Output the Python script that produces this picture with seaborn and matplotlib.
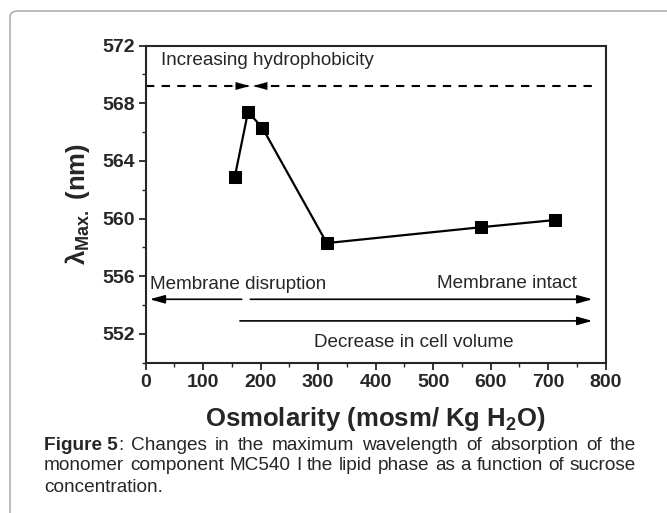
import matplotlib
matplotlib.use("Agg")
import matplotlib.pyplot as plt
import matplotlib.font_manager as fm
import seaborn as sns
import pandas as pd
from matplotlib.patches import FancyBboxPatch

# data
osmolarity = [155, 178, 203, 315, 583, 712]
lambda_max = [562.9, 567.4, 566.3, 558.3, 559.4, 559.9]

x_ticks = [0, 100, 200, 300, 400, 500, 600, 700, 800]
y_ticks = [552, 556, 560, 564, 568, 572]

caption_lines = [
    "Changes in the maximum wavelength of absorption of the",
    "monomer component MC540 I the lipid phase as a function of sucrose",
    "concentration.",
]

sns.set_style("ticks")
plt.rcParams['font.family'] = ['Liberation Sans', 'DejaVu Sans']
plt.rcParams['mathtext.fontset'] = 'custom'
plt.rcParams['mathtext.rm'] = 'Liberation Sans:bold'
plt.rcParams['mathtext.bf'] = 'Liberation Sans:bold'
plt.rcParams['mathtext.it'] = 'Liberation Sans:bold'

# caption font: narrow if available
try:
    fm.findfont("Liberation Sans Narrow", fallback_to_default=False)
    cap_family = "Liberation Sans Narrow"
except Exception:
    cap_family = "Liberation Sans"

df = pd.DataFrame({"x": osmolarity, "y": lambda_max})

fig = plt.figure(figsize=(6.67, 5.13), dpi=100)
ax = fig.add_axes([0.2184, 0.293, 0.6896, 0.618])

sns.lineplot(data=df, x="x", y="y", sort=False, ax=ax, color="black",
             linewidth=1.6, marker="s", markersize=8, markeredgecolor="black")

ax.set_xlim(0, 800)
ax.set_ylim(550, 572)
ax.set_xticks(x_ticks)
ax.set_yticks(y_ticks)
ax.set_xticks(range(50, 800, 100), minor=True)
ax.set_yticks([550, 554, 558, 562, 566, 570], minor=True)
ax.tick_params(which="major", length=5, width=1.3, labelsize=14, pad=3)
ax.tick_params(which="minor", length=3, width=1.0)
for lab in ax.get_xticklabels() + ax.get_yticklabels():
    lab.set_fontweight("bold")
for sp in ax.spines.values():
    sp.set_linewidth(1.5)
    sp.set_visible(True)

ax.set_xlabel("Osmolarity (mosm/ Kg H$_2$O)", fontsize=18.5, fontweight="bold", labelpad=10)
ax.set_ylabel(r"$\lambda_{\rm Max.}$ (nm)", fontsize=18.5, fontweight="bold", labelpad=7)

# dashed line with two arrow heads meeting
ax.plot([0, 785], [569.2, 569.2], color="black", lw=1.5, ls=(0, (4, 3.5)))
head = dict(arrowstyle="-|>,head_length=1.0,head_width=0.28",
            color="black", lw=0.1, shrinkA=0, shrinkB=0)
ax.annotate("", xy=(181, 569.2), xytext=(150, 569.2), arrowprops=head)
ax.annotate("", xy=(187, 569.2), xytext=(218, 569.2), arrowprops=head)
ax.text(27, 571.0, "Increasing hydrophobicity", fontsize=13.6, va="center", ha="left")

arrow_kw = dict(arrowstyle="-|>,head_length=0.9,head_width=0.25",
                color="black", lw=1.2, shrinkA=0, shrinkB=0)
ax.annotate("", xy=(7, 554.4), xytext=(167, 554.4), arrowprops=arrow_kw)
ax.annotate("", xy=(777, 554.4), xytext=(182, 554.4), arrowprops=arrow_kw)
ax.annotate("", xy=(777, 552.9), xytext=(164, 552.9), arrowprops=arrow_kw)
ax.text(7, 555.45, "Membrane disruption", fontsize=13.6, va="center", ha="left")
ax.text(750, 555.5, "Membrane intact", fontsize=13.6, va="center", ha="right")
ax.text(467, 551.4, "Decrease in cell volume", fontsize=13.6, va="center", ha="center")

# grey frame (top and left edges, rounded corner)
W, H = 667.0, 513.0
frame = FancyBboxPatch((10 / W, -40 / H), 700 / W, (H - 11 + 40) / H,
                       boxstyle="round,pad=0,rounding_size=0.012",
                       transform=fig.transFigure, facecolor="none",
                       edgecolor="#a0a0a0", lw=1.0, clip_on=False)
fig.add_artist(frame)

# justified caption; size chosen so the second line fills the width
fig.canvas.draw()
renderer = fig.canvas.get_renderer()
cap_left, cap_right = 44, 636
cap_y = [445, 466, 487]
probe = fig.text(0, 0, caption_lines[1], fontsize=10, family=[cap_family, "Liberation Sans"])
cap_size = 10 * (cap_right - cap_left) / probe.get_window_extent(renderer).width
probe.remove()

for i, line in enumerate(caption_lines):
    pieces = []
    if i == 0:
        pieces.append(("Figure 5", "bold", True))
        pieces.append((":", "normal", False))
    for w in line.split(" "):
        pieces.append((w, "normal", True))
    arts = []
    for txt, wt, gap_before in pieces:
        t = fig.text(0, 1 - cap_y[i] / H, txt, fontsize=cap_size, fontweight=wt,
                     family=[cap_family, "Liberation Sans"], va="center", ha="left")
        arts.append((t, gap_before))
    widths = [a.get_window_extent(renderer).width for a, _ in arts]
    ngaps = sum(1 for k, (_, g) in enumerate(arts) if k > 0 and g)
    if i < len(caption_lines) - 1:
        gap = (cap_right - cap_left - sum(widths)) / ngaps
    else:
        gap = cap_size * 0.28 * 100 / 72
    xpos = cap_left
    for k, (a, g) in enumerate(arts):
        if k > 0 and g:
            xpos += gap
        a.set_x(xpos / W)
        xpos += widths[k]

fig.savefig("out.png", dpi=100)
